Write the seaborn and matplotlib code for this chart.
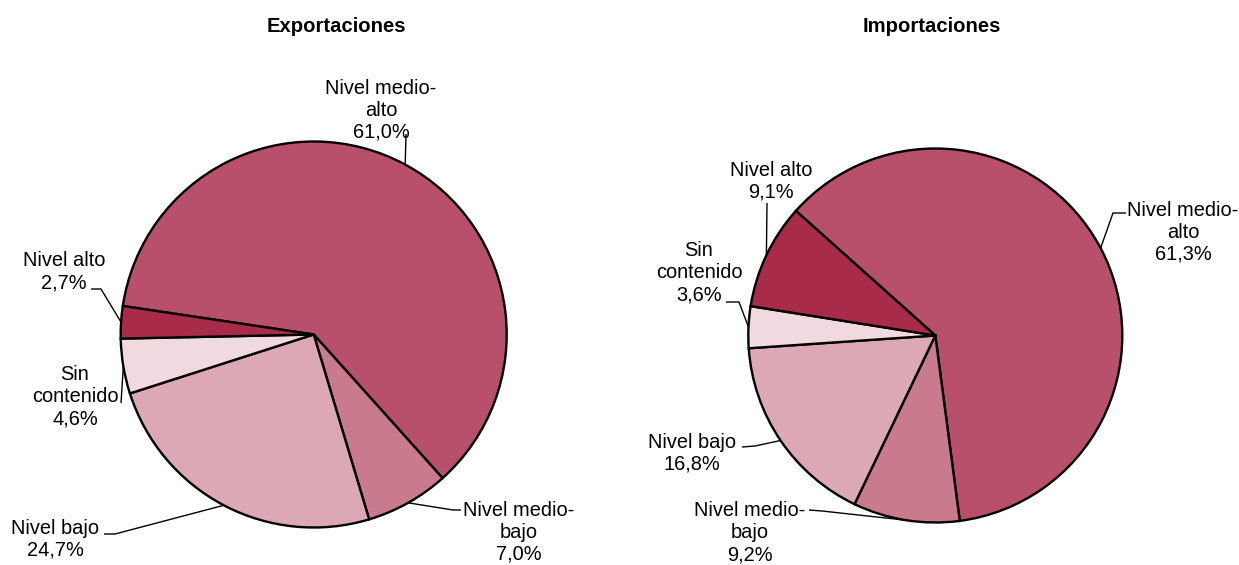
import numpy as np
import matplotlib
matplotlib.use("Agg")
import matplotlib.pyplot as plt
import seaborn as sns

# Datos
categorias = ["Nivel medio-alto", "Nivel medio-bajo", "Nivel bajo", "Sin contenido", "Nivel alto"]
etiquetas = ["Nivel medio-\nalto", "Nivel medio-\nbajo", "Nivel bajo", "Sin\ncontenido", "Nivel alto"]
exportaciones = [61.0, 7.0, 24.7, 4.6, 2.7]
importaciones = [61.3, 9.2, 16.8, 3.6, 9.1]
titulos = ["Exportaciones", "Importaciones"]

colores = sns.color_palette(["#B9506B", "#C97B8D", "#DCA8B5", "#F0D9DF", "#A92B4A"])

sns.set_theme(style="white")
plt.rcParams["font.family"] = ["Liberation Sans", "DejaVu Sans"]

W, H = 1239, 565
fig = plt.figure(figsize=(W / 100, H / 100), dpi=100)
ax = fig.add_axes([0, 0, 1, 1])

# Layout en pixeles (y hacia abajo): centro, radio, angulo inicial, titulo
paneles = [
    {
        "valores": exportaciones, "centro": (313.7, 334.5), "radio": 193, "inicio": 171.5,
        "titulo_xy": (336, 27),
        "textos": [(381, 110), (519, 532), (55, 539), (75, 397), (64, 272)],
        "guias": [[(406, 134)], [(461, 510), (453, 510)], [(104, 534), (115, 534)],
                  [(121, 403)], [(91, 289), (101, 289)]],
    },
    {
        "valores": importaciones, "centro": (935.3, 335.5), "radio": 187, "inicio": 138.2,
        "titulo_xy": (932, 27),
        "textos": [(1183, 232), (750, 533), (692, 453), (699, 273), (771, 181)],
        "guias": [[(1126, 213), (1113, 213)], [(809, 510), (822, 511)], [(742, 447), (755, 446)],
                  [(726, 302), (739, 302)], [(767, 203)]],
    },
]

for p, titulo in zip(paneles, titulos):
    # eje y invertido: sentido antihorario en datos = horario en pantalla
    wedges, _ = ax.pie(
        p["valores"], colors=colores, startangle=-p["inicio"], counterclock=True,
        center=p["centro"], radius=p["radio"], frame=True,
        wedgeprops=dict(edgecolor="black", linewidth=1.7),
    )
    cx, cy = p["centro"]
    for w, lab, val, txy, guia in zip(wedges, etiquetas, p["valores"], p["textos"], p["guias"]):
        ang = np.deg2rad((w.theta1 + w.theta2) / 2)
        anc = (cx + p["radio"] * np.cos(ang), cy + p["radio"] * np.sin(ang))
        pts = guia + [anc]
        ax.plot([q[0] for q in pts], [q[1] for q in pts], color="black", lw=1.0,
                solid_capstyle="butt")
        texto = lab + "\n" + f"{val:.1f}%".replace(".", ",")
        ax.text(txy[0], txy[1], texto, ha="center", va="center", fontsize=14.4,
                linespacing=1.2, color="black")
    ax.text(p["titulo_xy"][0], p["titulo_xy"][1], titulo, ha="center", va="center",
            fontsize=14.6, fontweight="bold", color="black")

ax.set_xlim(0, W)
ax.set_ylim(H, 0)
ax.set_aspect("auto")
ax.axis("off")

fig.savefig("out.png", dpi=100)
